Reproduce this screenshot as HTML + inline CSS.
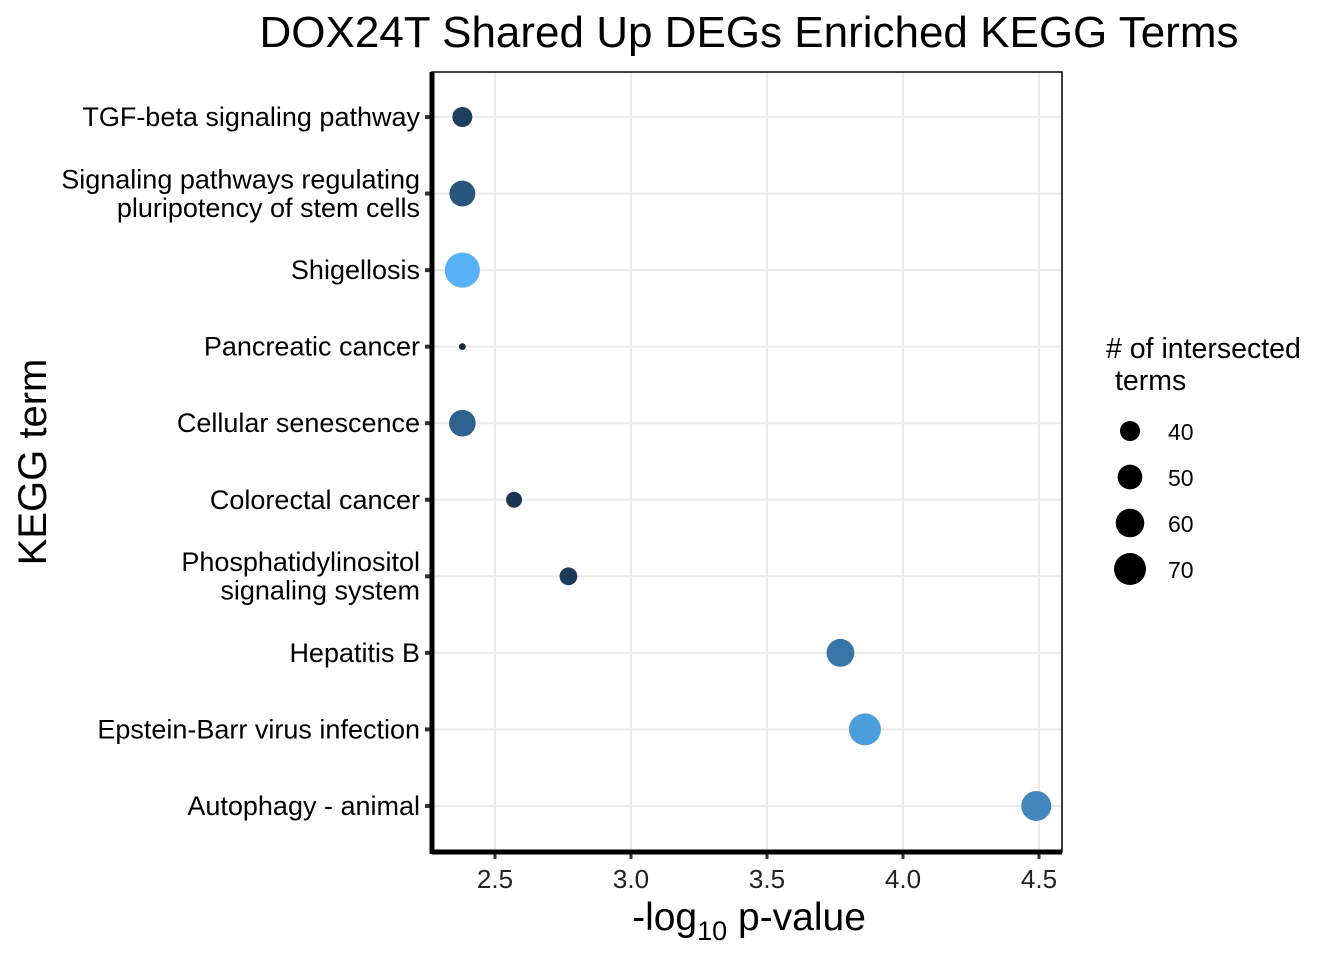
<!DOCTYPE html>
<html><head><meta charset="utf-8"><style>
body{margin:0;background:#fff;}
svg text{font-family:"Liberation Sans",Arial,sans-serif;}
</style></head><body>
<svg id="chart" width="1344" height="960" xmlns="http://www.w3.org/2000/svg">
<text x="749" y="47" font-size="44" text-anchor="middle">DOX24T Shared Up DEGs Enriched KEGG Terms</text>
<g id="grid"></g><g id="pts"></g><g id="axes"></g>
<text x="749" y="930" font-size="39" text-anchor="middle">-log<tspan font-size="27" dy="10">10</tspan><tspan dy="-10"> p-value</tspan></text>
<text transform="translate(46,462) rotate(-90)" font-size="40" text-anchor="middle">KEGG term</text>
<g>
<text x="1106" y="358" font-size="28.5">
<tspan x="1106">#&#160;of intersected</tspan><tspan x="1115" dy="32">terms</tspan></text>
<g id="leg"></g></g>
</svg>
<script>
const terms=["TGF-beta signaling pathway","Signaling pathways regulating|pluripotency of stem cells","Shigellosis","Pancreatic cancer","Cellular senescence","Colorectal cancer","Phosphatidylinositol|signaling system","Hepatitis B","Epstein-Barr virus infection","Autophagy - animal"];
const pvals=[2.38,2.38,2.38,2.38,2.38,2.57,2.77,3.77,3.86,4.49];
const counts=[40,53,80,23,55,33,36,58,70,64];
const colorVals=[0.15,0.32,1.0,0.0,0.42,0.08,0.12,0.55,0.85,0.68];
const xTicks=[2.5,3.0,3.5,4.0,4.5];
const legendCounts=[40,50,60,70];
const NS="http://www.w3.org/2000/svg";
const X0=432,X1=1062,Y0=72,Y1=852;
const xs=v=>495+(v-2.5)*272;
const ys=i=>117+i*76.55;
const rs=c=>Math.sqrt(Math.max(5.2*c-108,4));
function col(t){const a=[0x13,0x2b,0x43],b=[0x56,0xb1,0xf7];return "rgb("+a.map((v,i)=>Math.round(v+(b[i]-v)*t)).join(",")+")";}
function mk(tag,at,parent){const e=document.createElementNS(NS,tag);for(const k in at)e.setAttribute(k,at[k]);parent.appendChild(e);return e;}
const grid=document.getElementById('grid'),pts=document.getElementById('pts'),axes=document.getElementById('axes'),leg=document.getElementById('leg');
for(let i=0;i<xTicks.length;i++){const x=xs(xTicks[i]);
 let g=mk('line',{x1:x,x2:x,y1:Y0,y2:Y1,stroke:'#ebebeb','stroke-width':2},grid);
 
 if(i<xTicks.length-1){let m=mk('line',{x1:x+136,x2:x+136,y1:Y0,y2:Y1,stroke:'#ebebeb','stroke-width':1},grid);
 }
 let t=mk('text',{x:x,y:888,'font-size':26,'text-anchor':'middle',fill:'#222'},axes);t.textContent=xTicks[i].toFixed(1);
 
 mk('line',{x1:x,x2:x,y1:852,y2:859,stroke:'#333','stroke-width':3},axes);
}
terms.forEach((tm,i)=>{const y=ys(i);
 let g=mk('line',{x1:X0,x2:X1,y1:y,y2:y,stroke:'#ebebeb','stroke-width':2},grid);
 
 const lines=tm.split('|');
 let t=mk('text',{x:420,'font-size':27,'text-anchor':'end',fill:'#000'},axes);
 
 lines.forEach((l,j)=>{const s=mk('tspan',{x:420,y:y+9+(j-(lines.length-1)/2)*28.5},t);s.textContent=l;});
 mk('line',{x1:425,x2:432,y1:y,y2:y,stroke:'#333','stroke-width':4},axes);
 let c=mk('circle',{cx:xs(pvals[i]),cy:y,r:rs(counts[i]),fill:col(colorVals[i])},pts);
 
});
mk('rect',{x:X0,y:Y0,width:X1-X0,height:Y1-Y0,fill:'none',stroke:'#000','stroke-width':1.5},axes);
mk('line',{x1:X0,x2:X0,y1:Y0,y2:Y1+2,stroke:'#000','stroke-width':5},axes);
mk('line',{x1:X0,x2:X1,y1:Y1,y2:Y1,stroke:'#000','stroke-width':5},axes);
legendCounts.forEach((c,i)=>{const y=431+i*46;
 let e=mk('circle',{cx:1130,cy:y,r:rs(c),fill:'#000'},leg);
 
 let t=mk('text',{x:1168,y:y+9,'font-size':23},leg);t.textContent=c;
 
});
</script>
</body></html>
